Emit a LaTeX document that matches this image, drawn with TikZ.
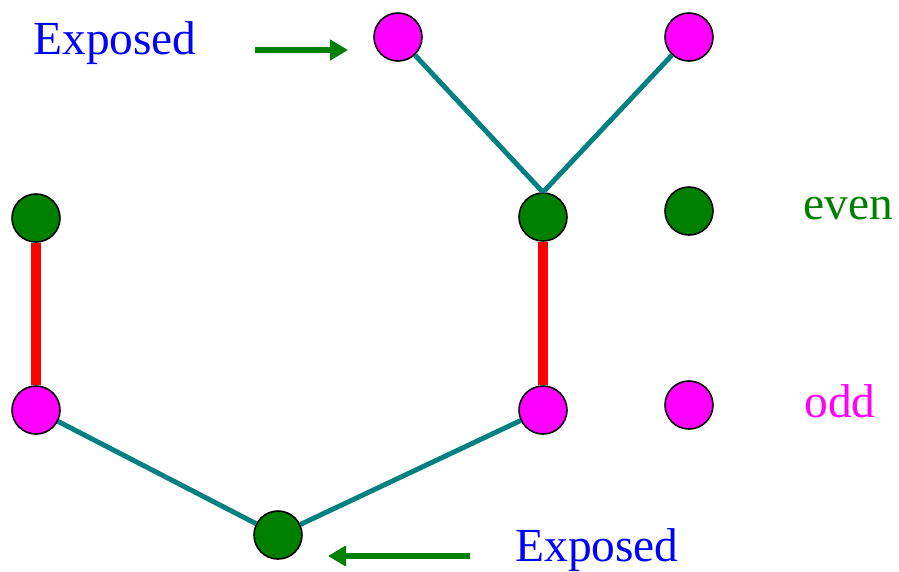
\documentclass[tikz,border=0pt]{standalone}
\usepackage{fontspec}
\setmainfont{Liberation Serif}
\usetikzlibrary{arrows.meta}

\definecolor{vgreen}{HTML}{008000}
\definecolor{vteal}{HTML}{008080}
\definecolor{vpink}{HTML}{FF00FF}

\begin{document}
\begin{tikzpicture}
  \tikzstyle{vert}=[circle, draw=black, line width=0.9pt, minimum size=0.96cm, inner sep=0pt]
  \tikzstyle{evenv}=[vert, fill=vgreen]
  \tikzstyle{oddv}=[vert, fill=vpink]
  \tikzstyle{tree}=[vteal, line width=2.8pt]
  \tikzstyle{matched}=[red, line width=6.2pt]
  \tikzstyle{pointer}=[vgreen, line width=3.2pt, -{Triangle[length=0.36cm, width=0.4cm]}]
  \tikzstyle{lbl}=[font=\fontsize{27}{30}\selectfont, inner sep=0pt]
  \useasboundingbox (0,0) rectangle (17.98,-11.42);
  % vertices
  \node[oddv] (o1) at (7.96,-0.74) {};
  \node[oddv] (o2) at (13.78,-0.74) {};
  \node[evenv] (gl) at (0.72,-4.36) {};
  \node[evenv] (gm) at (10.86,-4.34) {};
  \node[oddv] (ol) at (0.72,-8.2) {};
  \node[oddv] (om) at (10.86,-8.2) {};
  \node[evenv] (gb) at (5.56,-10.7) {};
  % legend
  \node[evenv] (keven) at (13.78,-4.22) {};
  \node[oddv] (kodd) at (13.78,-8.1) {};
  \node[lbl, text=vgreen] (teven) at (16.96,-4.18) {even};
  \node[lbl, text=vpink] (todd) at (16.8,-8.02) {odd};
  % edges
  \draw[tree] (o1) -- (gm.north);
  \draw[tree] (o2) -- (gm.north);
  \draw[matched] (gl) -- (ol);
  \draw[matched] (gm) -- (om);
  \draw[tree] (ol) -- (gb);
  \draw[tree] (gb) -- (om);
  % exposed vertices
  \node[lbl, text=blue] (exp1) at (2.3,-0.86) {Exposed};
  \node[lbl, text=blue] (exp2) at (11.94,-11.0) {Exposed};
  \coordinate (a1) at (5.1,-1.0);
  \coordinate (b1) at (6.96,-1.0);
  \coordinate (a2) at (9.4,-11.12);
  \coordinate (b2) at (6.56,-11.12);
  \draw[pointer] (a1) -- (b1);
  \draw[pointer] (a2) -- (b2);
\end{tikzpicture}
\end{document}
